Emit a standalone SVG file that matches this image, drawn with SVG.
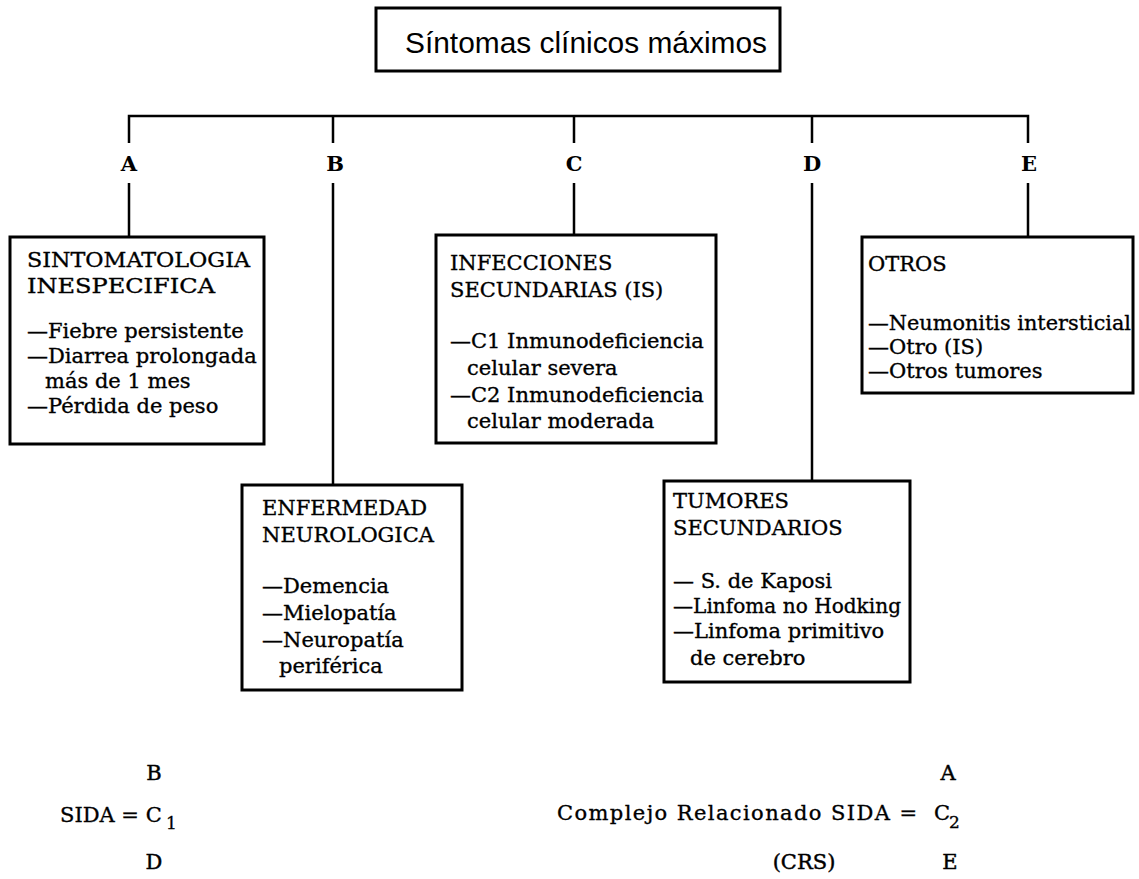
<svg xmlns="http://www.w3.org/2000/svg" width="1139" height="879" viewBox="0 0 1139 879">
<style>
.box{fill:#fff;stroke:#000;stroke-width:3}
.ln{fill:none;stroke:#000;stroke-width:2.5}
.t{font-family:"DejaVu Serif","Liberation Serif",serif;font-size:21px;fill:#000;stroke:#000;stroke-width:0.35}
.lbl{font-family:"DejaVu Serif","Liberation Serif",serif;font-size:21px;font-weight:bold;fill:#000;text-anchor:middle}
.lg{font-family:"DejaVu Serif","Liberation Serif",serif;font-size:21px;fill:#000;stroke:#000;stroke-width:0.45;text-anchor:middle}
.sub{font-family:"DejaVu Serif","Liberation Serif",serif;font-size:17px;fill:#000;stroke:#000;stroke-width:0.3}
.title{font-family:"Liberation Sans",Arial,sans-serif;font-size:29px;fill:#000}
</style>
<rect width="1139" height="879" fill="#fff"/>
<g id="connectors">
<path class="ln" d="M129,143 V116 H1028 V143"/>
<path class="ln" d="M333,116 V143 M574,116 V143 M812,116 V143"/>
<path class="ln" d="M129,183 V237 M333,183 V485 M574,183 V235 M812,183 V481 M1028,183 V237"/>
<text class="lbl" x="129" y="171">A</text>
<text class="lbl" x="335" y="171">B</text>
<text class="lbl" x="574" y="171">C</text>
<text class="lbl" x="812" y="171">D</text>
<text class="lbl" x="1029" y="171">E</text>
</g>
<g id="root">
<rect class="box" x="376" y="8" width="404" height="63"/>
<text class="title" x="405" y="53" textLength="362" lengthAdjust="spacingAndGlyphs">Síntomas clínicos máximos</text>
</g>
<g id="nodeA">
<rect class="box" x="10" y="237" width="254" height="207"/>
<text class="t" x="27" y="267" textLength="223" lengthAdjust="spacingAndGlyphs">SINTOMATOLOGIA</text>
<text class="t" x="27" y="293" textLength="188" lengthAdjust="spacingAndGlyphs">INESPECIFICA</text>
<text class="t" x="27" y="338">—Fiebre persistente</text>
<text class="t" x="27" y="363">—Diarrea prolongada</text>
<text class="t" x="45" y="388">más de 1 mes</text>
<text class="t" x="27" y="413">—Pérdida de peso</text>
</g>
<g id="nodeB">
<rect class="box" x="242" y="485" width="220" height="205"/>
<text class="t" x="262" y="515">ENFERMEDAD</text>
<text class="t" x="262" y="542">NEUROLOGICA</text>
<text class="t" x="262" y="593">—Demencia</text>
<text class="t" x="262" y="620">—Mielopatía</text>
<text class="t" x="262" y="647">—Neuropatía</text>
<text class="t" x="279" y="673">periférica</text>
</g>
<g id="nodeC">
<rect class="box" x="436" y="235" width="280" height="208"/>
<text class="t" x="450" y="270">INFECCIONES</text>
<text class="t" x="450" y="297">SECUNDARIAS (IS)</text>
<text class="t" x="450" y="348">—C1 Inmunodeficiencia</text>
<text class="t" x="467" y="375">celular severa</text>
<text class="t" x="450" y="402">—C2 Inmunodeficiencia</text>
<text class="t" x="467" y="428">celular moderada</text>
</g>
<g id="nodeD">
<rect class="box" x="664" y="481" width="246" height="201"/>
<text class="t" x="673" y="508">TUMORES</text>
<text class="t" x="673" y="535">SECUNDARIOS</text>
<text class="t" x="673" y="588">— S. de Kaposi</text>
<text class="t" x="673" y="613" textLength="228" lengthAdjust="spacingAndGlyphs">—Linfoma no Hodking</text>
<text class="t" x="673" y="638">—Linfoma primitivo</text>
<text class="t" x="690" y="665">de cerebro</text>
</g>
<g id="nodeE">
<rect class="box" x="862" y="237" width="271" height="156"/>
<text class="t" x="868" y="271">OTROS</text>
<text class="t" x="868" y="330" textLength="263" lengthAdjust="spacingAndGlyphs">—Neumonitis intersticial</text>
<text class="t" x="868" y="354">—Otro (IS)</text>
<text class="t" x="868" y="378">—Otros tumores</text>
</g>
<g id="legend">
<text class="lg" x="154" y="780">B</text>
<text class="t" x="60" y="822">SIDA = C</text>
<text class="sub" x="166" y="829">1</text>
<text class="lg" x="154" y="869">D</text>
<text class="lg" x="948" y="780">A</text>
<text class="t" x="557" y="820" textLength="360" lengthAdjust="spacing">Complejo Relacionado SIDA =</text>
<text class="t" x="934" y="820">C</text>
<text class="sub" x="949" y="828">2</text>
<text class="lg" x="804" y="869">(CRS)</text>
<text class="lg" x="950" y="869">E</text>
</g>
</svg>
